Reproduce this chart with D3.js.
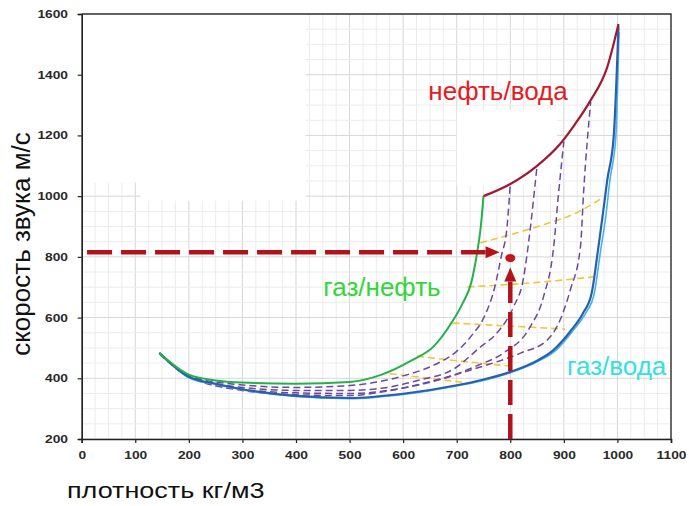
<!DOCTYPE html>
<html>
<head>
<meta charset="utf-8">
<script src="https://cdn.jsdelivr.net/npm/d3@7"></script>
<style>
  body { margin: 0; background: #fff; }
  svg { display: block; font-family: Arial, "Liberation Sans", sans-serif; }
  .tick text { font-size: 11px; font-weight: bold; fill: #2a2a2a; }
</style>
</head>
<body>
<svg id="chart" width="689" height="506"></svg>
<script>
// density (kg/m3) vs sound speed (m/s)
var densityTicks = [0, 100, 200, 300, 400, 500, 600, 700, 800, 900, 1000, 1100];
var speedTicks = [200, 400, 600, 800, 1000, 1200, 1400, 1600];

var gasWater = [[145,483],[200,405],[250,382],[300,364],[400,342],[500,335],[600,349],[700,377],[750,396],[800,421],[850,458],[880,492],[914,559],[935,612],[952,681],[963,813],[972,930],[981,1053],[993,1195],[1002,1560]];
var gasWaterLight = [[150,478],[200,402],[250,380],[300,362],[400,340],[500,333],[600,347],[700,375],[750,393],[800,418],[850,454],[885,492],[918,559],[940,612],[957,681],[968,813],[978,930],[986,1053],[997,1195],[1003,1540]];
var gasOil = [[145,483],[200,412],[250,393],[300,386],[400,382],[500,388],[560,412],[615,458],[657,505],[690,582],[712,650],[727,714],[738,813],[745,900],[750,1000]];
var oilWater = [[750,1000],[800,1040],[850,1100],[893,1172],[920,1235],[949,1313],[981,1425],[1002,1567]];

var mixLines = [
  [[145,483],[200,408],[300,378],[400,370],[500,376],[600,408],[663,448],[696,483],[727,539],[752,605],[771,700],[783,800],[794,900],[800,1040]],
  [[145,483],[200,406],[300,370],[400,360],[500,360],[570,370],[632,395],[694,430],[744,503],[775,549],[806,635],[824,724],[837,888],[847,1050],[850,1100]],
  [[145,483],[200,405],[300,364],[400,352],[500,350],[600,368],[680,402],[740,443],[787,483],[837,569],[862,668],[881,833],[890,1007],[900,1180]],
  [[145,483],[200,405],[300,360],[400,346],[500,343],[576,360],[663,395],[744,437],[819,483],[869,526],[893,592],[912,691],[931,833],[937,1017],[950,1310]]
];

var isoLines = [
  [[744,846],[800,873],[869,910],[920,942],[968,990]],
  [[720,701],[837,714],[955,734]],
  [[692,582],[800,572],[902,562]],
  [[626,473],[700,458],[802,440]],
  [[575,415],[650,400],[720,385]]
];

// reading arrows: horizontal from left, vertical from bottom, measured point
var arrowH = [[10,815],[780,815]];
var arrowV = [[800,200],[800,765]];
var measuredPoint = [800, 796];

// white patches over the grid in the original picture (data units)
var blankAreas = [
  {x0: 0, x1: 418, y0: 1045, y1: 1600},
  {x0: 110, x1: 418, y0: 985, y1: 1045},
  {x0: 700, x1: 887, y0: 1035, y1: 1284}
];

var labels = [
  {text: 'нефть/вода', x: 647, y: 1317, color: '#e31b23'},
  {text: 'газ/нефть', x: 451, y: 671, color: '#33d63a'},
  {text: 'газ/вода', x: 906, y: 411, color: '#35e0e0'}
];

var svg = d3.select('#chart');
var margin = {left: 81.7, right: 18, top: 14, bottom: 67};
var width = 689 - margin.left - margin.right;
var height = 506 - margin.top - margin.bottom;

var x = d3.scaleLinear().domain([0, 1100]).range([0, width]);
var y = d3.scaleLinear().domain([200, 1600]).range([height, 0]);

var g = svg.append('g').attr('transform', 'translate(' + margin.left + ',' + margin.top + ')');

// grid
var gridG = g.append('g').attr('class', 'grid');
gridG.selectAll('.vminor')
    .data(d3.range(0, 1101, 25))
  .enter().append('line')
    .attr('x1', function(d) { return x(d); })
    .attr('x2', function(d) { return x(d); })
    .attr('y1', 0).attr('y2', height)
    .attr('stroke', function(d) { return d % 100 === 0 ? '#d6d6d6' : '#ececec'; })
    .attr('stroke-width', 1);
gridG.selectAll('.hminor')
    .data(d3.range(200, 1601, 50))
  .enter().append('line')
    .attr('y1', function(d) { return y(d); })
    .attr('y2', function(d) { return y(d); })
    .attr('x1', 0).attr('x2', width)
    .attr('stroke', function(d) { return d % 200 === 0 ? '#d6d6d6' : '#ececec'; })
    .attr('stroke-width', 1);

g.selectAll('.blank')
    .data(blankAreas)
  .enter().append('rect')
    .attr('x', function(d) { return x(d.x0); })
    .attr('y', function(d) { return y(d.y1); })
    .attr('width', function(d) { return x(d.x1) - x(d.x0); })
    .attr('height', function(d) { return y(d.y0) - y(d.y1); })
    .attr('fill', '#fff');

// axes
var xAxis = d3.axisBottom(x).tickValues(densityTicks).tickFormat(d3.format('d')).tickSize(4).tickPadding(8);
var yAxis = d3.axisLeft(y).tickValues(speedTicks).tickFormat(d3.format('d')).tickSize(4).tickPadding(7);

var xg = g.append('g').attr('transform', 'translate(0,' + height + ')').call(xAxis);
var yg = g.append('g').call(yAxis);
[xg, yg].forEach(function(a) {
    a.select('.domain').attr('stroke', '#222').attr('stroke-width', 1.6);
    a.selectAll('.tick line').attr('stroke', '#222').attr('stroke-width', 1.2);
    a.selectAll('.tick text').attr('transform', 'scale(1.25,1)');
});

// frame top/right
g.append('path')
    .attr('d', 'M0,0H' + width + 'V' + height)
    .attr('fill', 'none')
    .attr('stroke', '#333')
    .attr('stroke-width', 1.4);

var line = d3.line()
    .x(function(d) { return x(d[0]); })
    .y(function(d) { return y(d[1]); })
    .curve(d3.curveMonotoneX);

// iso lines (yellow)
g.selectAll('.iso')
    .data(isoLines)
  .enter().append('path')
    .attr('d', line)
    .attr('fill', 'none')
    .attr('stroke', '#f2c53d')
    .attr('stroke-width', 1.6)
    .attr('stroke-dasharray', '7,4');

// mixing lines (purple)
g.selectAll('.mix')
    .data(mixLines)
  .enter().append('path')
    .attr('d', line)
    .attr('fill', 'none')
    .attr('stroke', '#6a4a9c')
    .attr('stroke-width', 1.5)
    .attr('stroke-dasharray', '7,4');

// main curves
g.append('path').datum(gasWaterLight).attr('d', line)
    .attr('fill', 'none').attr('stroke', '#45b5e6').attr('stroke-width', 1.6);
g.append('path').datum(gasWater).attr('d', line)
    .attr('fill', 'none').attr('stroke', '#2a5fae').attr('stroke-width', 2.2);
g.append('path').datum(gasOil).attr('d', line)
    .attr('fill', 'none').attr('stroke', '#24b04a').attr('stroke-width', 2);
g.append('path').datum(oilWater).attr('d', line)
    .attr('fill', 'none').attr('stroke', '#a3182e').attr('stroke-width', 2.2);

// arrows
var arrowColor = '#b3121b';

function drawArrow(pts, headLen) {
    var p0 = [x(pts[0][0]), y(pts[0][1])];
    var p1 = [x(pts[1][0]), y(pts[1][1])];
    var ang = Math.atan2(p1[1] - p0[1], p1[0] - p0[0]);
    var base = [p1[0] - headLen * Math.cos(ang), p1[1] - headLen * Math.sin(ang)];
    g.append('line')
        .attr('x1', p0[0]).attr('y1', p0[1])
        .attr('x2', base[0]).attr('y2', base[1])
        .attr('stroke', arrowColor)
        .attr('stroke-width', 4.5)
        .attr('stroke-dasharray', '25,9');
    var w = 6;
    var nx = -Math.sin(ang), ny = Math.cos(ang);
    g.append('path')
        .attr('d', 'M' + p1[0] + ',' + p1[1] +
              'L' + (base[0] + nx * w) + ',' + (base[1] + ny * w) +
              'L' + (base[0] - nx * w) + ',' + (base[1] - ny * w) + 'Z')
        .attr('fill', arrowColor);
}
drawArrow(arrowH, 14);
drawArrow(arrowV, 14);

g.append('ellipse')
    .attr('cx', x(measuredPoint[0]))
    .attr('cy', y(measuredPoint[1]))
    .attr('rx', 5).attr('ry', 4)
    .attr('fill', '#c8141e');

// curve labels
g.selectAll('.lbl')
    .data(labels)
  .enter().append('text')
    .attr('x', function(d) { return x(d.x); })
    .attr('y', function(d) { return y(d.y); })
    .attr('fill', function(d) { return d.color; })
    .attr('font-size', 26)
    .text(function(d) { return d.text; });

// axis titles
svg.append('text')
    .attr('transform', 'translate(67,498) scale(1.2,1)')
    .attr('font-size', 22.5)
    .attr('fill', '#111')
    .text('плотность кг/м3');

svg.append('text')
    .attr('transform', 'translate(30,244) rotate(-90)')
    .attr('text-anchor', 'middle')
    .attr('font-size', 26)
    .attr('fill', '#111')
    .text('скорость звука м/с');
</script>
</body>
</html>
